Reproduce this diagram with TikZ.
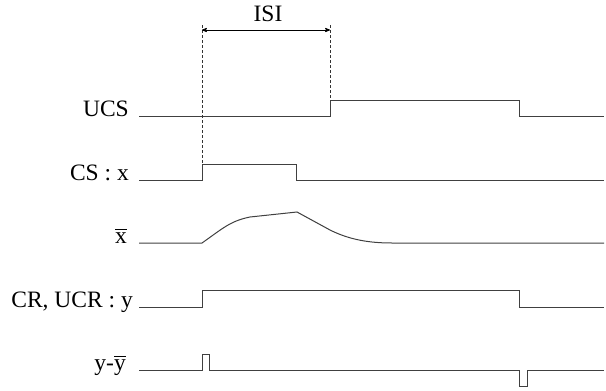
\documentclass[tikz,border=0pt]{standalone}
\usepackage{fontspec}
\setmainfont{Liberation Serif}
\usepackage{tikz}
\usetikzlibrary{arrows}
\newcommand{\topbar}[1]{\vbox{\hrule height 1pt\kern2.5pt\hbox{#1}}}
\tikzstyle{label} = [anchor=base east, inner sep=0pt, font=\fontsize{23.5}{28}\selectfont]
\tikzstyle{signal} = [line width=1pt, draw=black!75]
\tikzstyle{guide} = [densely dashed, line width=0.6pt, draw=black!80]
\tikzstyle{arrow} = [line width=0.8pt, <->, >=stealth']

\begin{document}
\begin{tikzpicture}[x=1pt, y=-1pt]
        \useasboundingbox (0,0) rectangle (606,391);

        % Nodes
        \node (ucs) [label] at (129,116) {UCS};
        \node (cs) [label] at (129,180) {CS : x};
        \node (xbar) [label] at (127,243) {\topbar{x}};
        \node (cr) [label] at (133,307) {CR, UCR : y};
        \node (err) [label] at (126,370) {y-\topbar{y}};
        \coordinate (isiL) at (202,25);
        \coordinate (isiR) at (330,25);
        \coordinate (csUp) at (202,164);
        \coordinate (ucsUp) at (330,100);
        \node (isi) [font=\fontsize{23.5}{28}\selectfont] at (268,14) {ISI};

        % Signals
        \draw [signal] (139,116) -- (330,116) -- (ucsUp) -- (519,100) -- (519,116) -- (604,116);
        \draw [signal] (139,180) -- (202,180) -- (csUp) -- (296,164) -- (296,180) -- (604,180);
        \draw [signal] (139,243) -- (202,243) .. controls (222,229) and (230,221) .. (250,217)
            -- (297,212) -- (330,230) .. controls (350,240) and (370,243) .. (392,243) -- (604,243);
        \draw [signal] (139,307) -- (202,307) -- (202,290) -- (519,290) -- (519,307) -- (604,307);
        \draw [signal] (139,370) -- (202,370) -- (202,354) -- (209,354) -- (209,370) -- (519,370)
            -- (519,386) -- (527,386) -- (527,370) -- (604,370);

        % Arrows
        \draw [guide] (isiL) -- (csUp);
        \draw [guide] (isiR) -- (ucsUp);
        \draw [arrow] ([yshift=-5pt]isiL) -- ([yshift=-5pt]isiR);
    \end{tikzpicture}
\end{document}
